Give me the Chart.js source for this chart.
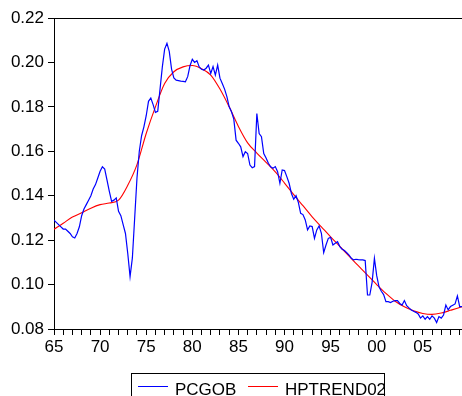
<!DOCTYPE html>
<html>
<head>
<meta charset="utf-8">
<script src="https://cdn.jsdelivr.net/npm/chart.js@4.4.1/dist/chart.umd.min.js"></script>
<style>
    html, body { margin: 0; padding: 0; background: #fff; }
    #wrap { width: 462px; height: 396px; position: relative; }
</style>
</head>
<body>
<div id="wrap"><canvas id="myChart" width="462" height="396"></canvas></div>
<script>
// квартальные данные, 1965Q1 - 2009Q2
const startYear = 1965;
const pcgob = [
    0.129, 0.128, 0.127, 0.126,      // 1965
    0.125, 0.125, 0.124, 0.123,      // 1966
    0.1215, 0.121, 0.123, 0.126,     // 1967
    0.131, 0.134, 0.136, 0.138,      // 1968
    0.140, 0.143, 0.145, 0.148,      // 1969
    0.151, 0.153, 0.152, 0.147,      // 1970
    0.142, 0.1375, 0.138, 0.139,     // 1971
    0.133, 0.131, 0.127, 0.123,      // 1972
    0.114, 0.1036, 0.112, 0.130,     // 1973
    0.148, 0.160, 0.167, 0.171,      // 1974
    0.176, 0.1825, 0.184, 0.181,     // 1975
    0.1775, 0.178, 0.188, 0.198,     // 1976
    0.206, 0.2086, 0.205, 0.197,     // 1977
    0.193, 0.192, 0.1918, 0.1916,    // 1978
    0.1915, 0.1913, 0.1936, 0.1985,  // 1979
    0.2014, 0.2000, 0.2008, 0.198,   // 1980
    0.1969, 0.1966, 0.1974, 0.1988,  // 1981
    0.195, 0.1981, 0.1943, 0.1988,   // 1982
    0.1929, 0.1905, 0.188, 0.1846,   // 1983
    0.180, 0.1778, 0.1745, 0.165,    // 1984
    0.1636, 0.162, 0.1576, 0.1598,   // 1985
    0.159, 0.1538, 0.1526, 0.1531,   // 1986
    0.177, 0.168, 0.1666, 0.159,     // 1987
    0.157, 0.1546, 0.153, 0.1524,    // 1988
    0.1531, 0.1508, 0.1456, 0.1516,  // 1989
    0.1513, 0.1486, 0.1456, 0.141,   // 1990
    0.1384, 0.140, 0.137, 0.1321,    // 1991
    0.1315, 0.1291, 0.1246, 0.1264,  // 1992
    0.1261, 0.1208, 0.1246, 0.1264,  // 1993
    0.1231, 0.1144, 0.1178, 0.1208,  // 1994
    0.1213, 0.1178, 0.1186, 0.1193,  // 1995
    0.1171, 0.1159, 0.1153, 0.1143,  // 1996
    0.1133, 0.1118, 0.1111, 0.1114,  // 1997
    0.1112, 0.1111, 0.1111, 0.1108,  // 1998
    0.0953, 0.0953, 0.101, 0.1118,   // 1999
    0.104, 0.099, 0.097, 0.0955,     // 2000
    0.0923, 0.0923, 0.0919, 0.0925,  // 2001
    0.0928, 0.0928, 0.0915, 0.0908,  // 2002
    0.0928, 0.0905, 0.0895, 0.0886,  // 2003
    0.0880, 0.0875, 0.0868, 0.0849,  // 2004
    0.0859, 0.0844, 0.0856, 0.0844,  // 2005
    0.0859, 0.0849, 0.0829, 0.0856,  // 2006
    0.0849, 0.0863, 0.0908, 0.0886,  // 2007
    0.0901, 0.0907, 0.0913, 0.0949,  // 2008
    0.0901, 0.0901                   // 2009
];

// HP-тренд, значения на начало года
const hpYears = [1965, 1966, 1967, 1968, 1969, 1970, 1971, 1972, 1973, 1974,
    1975, 1976, 1977, 1978, 1979, 1980, 1981, 1982, 1983, 1984,
    1985, 1986, 1987, 1988, 1989, 1990, 1991, 1992, 1993, 1994,
    1995, 1996, 1997, 1998, 1999, 2000, 2001, 2002, 2003, 2004,
    2005, 2006, 2007, 2008, 2009, 2009.25];
const hpTrend = [0.1249, 0.1276, 0.1304, 0.1323, 0.1344, 0.1360, 0.1367, 0.1380, 0.1447, 0.1540,
    0.1680, 0.1800, 0.1905, 0.1958, 0.1980, 0.1986, 0.1972, 0.1943, 0.1880, 0.1800,
    0.1712, 0.1638, 0.1592, 0.1550, 0.1507, 0.1457, 0.1405, 0.1355, 0.1305, 0.1260,
    0.1215, 0.1172, 0.1128, 0.1085, 0.1042, 0.1000, 0.0960, 0.0925, 0.0900, 0.0882,
    0.0870, 0.0866, 0.0872, 0.0884, 0.0897, 0.0901];

const seriesNames = ['PCGOB', 'HPTREND02'];
const yTicks = [0.08, 0.10, 0.12, 0.14, 0.16, 0.18, 0.20, 0.22];

const FONT = { family: '"Liberation Sans", Arial, sans-serif', size: 17 };

// рамка сверху и легенда снизу
const framePlugin = {
    id: 'frame',
    afterDraw(chart) {
        const ctx = chart.ctx;
        const a = chart.chartArea;
        ctx.save();
        ctx.strokeStyle = '#000';
        ctx.lineWidth = 1;
        ctx.beginPath();
        ctx.moveTo(a.left, a.top + 0.5);
        ctx.lineTo(chart.width, a.top + 0.5);
        ctx.stroke();

        // легенда
        ctx.strokeRect(131.5, 373.5, 253, 40);
        ctx.lineWidth = 1;
        ctx.strokeStyle = '#0000FF';
        ctx.beginPath();
        ctx.moveTo(138, 386.5);
        ctx.lineTo(168, 386.5);
        ctx.stroke();
        ctx.strokeStyle = '#FF0000';
        ctx.beginPath();
        ctx.moveTo(248, 386.5);
        ctx.lineTo(278, 386.5);
        ctx.stroke();
        ctx.fillStyle = '#000';
        ctx.font = FONT.size + 'px ' + FONT.family;
        ctx.textBaseline = 'alphabetic';
        ctx.fillText(seriesNames[0], 175, 395);
        ctx.fillText(seriesNames[1], 285, 395);
        ctx.restore();
    }
};

const ctx = document.getElementById('myChart').getContext('2d');
new Chart(ctx, {
    type: 'line',
    data: {
        datasets: [{
            label: seriesNames[0],
            data: pcgob.map((v, i) => ({ x: startYear + i / 4, y: v })),
            borderColor: '#0000FF',
            borderWidth: 1.2,
            pointRadius: 0,
            tension: 0
        }, {
            label: seriesNames[1],
            data: hpYears.map((yr, i) => ({ x: yr, y: hpTrend[i] })),
            borderColor: '#FF0000',
            borderWidth: 1.1,
            pointRadius: 0,
            cubicInterpolationMode: 'monotone'
        }]
    },
    options: {
        responsive: false,
        animation: false,
        layout: { padding: { top: 18, right: 0, left: 0, bottom: 0 } },
        plugins: {
            legend: { display: false },
            tooltip: { enabled: false }
        },
        scales: {
            x: {
                type: 'linear',
                min: 1965,
                max: 2009.25,
                afterFit: (scale) => { scale.height = 67; },
                border: { display: true, color: '#000', width: 1 },
                grid: { drawOnChartArea: false, drawTicks: true, tickLength: 6, color: '#000' },
                ticks: {
                    stepSize: 1,
                    includeBounds: false,
                    autoSkip: false,
                    maxRotation: 0,
                    padding: 2,
                    color: '#000',
                    font: FONT,
                    callback: (v) => (v % 5 === 0 ? String(v % 100).padStart(2, '0') : '')
                }
            },
            y: {
                min: yTicks[0],
                max: yTicks[yTicks.length - 1],
                afterFit: (scale) => { scale.width = 54; },
                afterBuildTicks: (scale) => { scale.ticks = yTicks.map(v => ({ value: v })); },
                border: { display: true, color: '#000', width: 1 },
                grid: { drawOnChartArea: false, drawTicks: true, tickLength: 6, color: '#000' },
                ticks: {
                    padding: 4,
                    color: '#000',
                    font: FONT,
                    callback: (v) => v.toFixed(2)
                }
            }
        }
    },
    plugins: [framePlugin]
});
</script>
</body>
</html>
